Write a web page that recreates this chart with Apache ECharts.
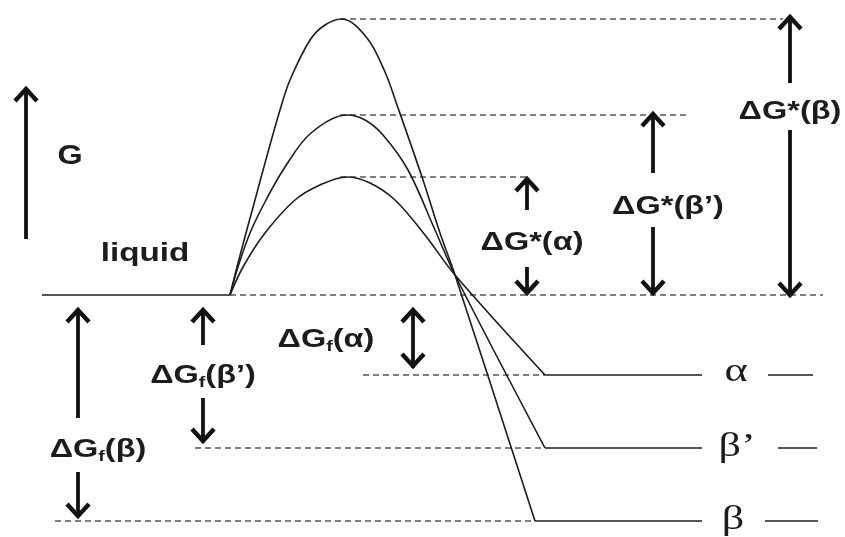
<!DOCTYPE html>
<html>
<head>
<meta charset="utf-8">
<script src="https://cdn.jsdelivr.net/npm/echarts@6/dist/echarts.min.js"></script>
<style>html,body{margin:0;padding:0;background:#fff;}#c{width:845px;height:537px;}</style>
</head>
<body>
<div id="c"></div>
<script>
// ---- data (reaction coordinate, Gibbs energy G; liquid = 0) ----
const phases = ['α', 'β’', 'β'];
const liquidG = 0;
const levelG = [-80, -153, -226];        // ΔGf of each phase (final levels)
const barrierG = [118, 180, 276];        // ΔG* of each phase (activation barriers)
const curveAlpha = [[230,0],[243,28],[265,62],[295,95],[320,110],[347,118],[370,112],[395,95],[425,60],[455,20],[545,-80]];
const curveBetaP = [[230,0],[238,28],[250,62],[266,95],[285,128],[311,162],[347,180],[365,175],[383,160],[408,125],[435,65],[455,20],[545,-153]];
const curveBeta  = [[230,0],[237,28],[246,62],[255,95],[265,132],[280,185],[290,215],[310,255],[325,270],[342,276],[367,257],[385,223],[397,190],[422,118],[440,62],[455,20],[535,-226]];
const curves = [curveAlpha, curveBetaP, curveBeta];

// ---- layout (reaction-coordinate extents of guide lines and arrows) ----
const liquidX = [42, 230];
const levelLineX = [[545, 702], [545, 702], [535, 702]];
const levelTickX = [[768, 813], [778, 817], [765, 818]];
const barrierGuideX = [[340, 530], [340, 687], [340, 783]];
const levelGuideX = [[363, 545], [195, 545], [55, 535]];
const baselineGuideX = [230, 823];
// arrows: [x, gFrom, gTo, bothHeads]
const arrows = [
  [26, 56, 208, 0],
  [527, 85, 118, 0], [527, 28, 0, 0],
  [653, 122, 183, 0], [653, 68, 0, 0],
  [790, 212, 280, 0], [790, 165, -2, 0],
  [78, -123, -13, 0], [78, -177, -223, 0],
  [203, -50, -13, 0], [203, -103, -148, 0],
  [413, -73, -13, 1]
];

const INK = '#1c1c1c';
const series = [];
function seg(x1, x2, g, dashed, width, color) {
  series.push({
    type: 'line', data: [[x1, g], [x2, g]], symbol: 'none', silent: true,
    lineStyle: { color: color, width: width, type: dashed ? [6, 4] : 'solid' }, z: 2
  });
}
seg(liquidX[0], liquidX[1], liquidG, false, 1.8, '#555');
seg(baselineGuideX[0], baselineGuideX[1], liquidG, true, 1.4, '#555');
for (let i = 0; i < 3; i++) {
  seg(barrierGuideX[i][0], barrierGuideX[i][1], barrierG[i], true, 1.4, '#555');
  seg(levelGuideX[i][0], levelGuideX[i][1], levelG[i], true, 1.4, '#555');
  seg(levelLineX[i][0], levelLineX[i][1], levelG[i], false, 1.8, '#555');
  seg(levelTickX[i][0], levelTickX[i][1], levelG[i], false, 1.8, '#555');
}
curves.forEach(function (c) {
  series.push({
    type: 'line', data: c, symbol: 'none', smooth: 0.35, silent: true,
    lineStyle: { color: INK, width: 1.6 }, z: 3
  });
});
series.push({
  type: 'custom', data: arrows, encode: { x: 0, y: [1, 2] }, clip: false, silent: true, z: 4,
  renderItem: function (params, api) {
    const x = api.value(0), g1 = api.value(1), g2 = api.value(2), both = api.value(3);
    const p1 = api.coord([x, g1]), p2 = api.coord([x, g2]);
    const st = { stroke: '#111', lineWidth: 3.8, fill: null, lineJoin: 'miter', lineCap: 'butt' };
    const hs = { stroke: '#111', lineWidth: 4.4, fill: null, lineJoin: 'miter', lineCap: 'butt', miterLimit: 10 };
    function head(tip, from) {
      const d = from[1] > tip[1] ? 1 : -1;
      return { type: 'polyline', shape: { points: [[tip[0] - 11, tip[1] + d * 14], [tip[0], tip[1] + d * 2], [tip[0] + 11, tip[1] + d * 14]] }, style: hs };
    }
    const ch = [{ type: 'line', shape: { x1: p1[0], y1: p1[1], x2: p2[0], y2: p2[1] + (p1[1] > p2[1] ? 4 : -4) }, style: st }, head(p2, p1)];
    if (both) ch.push(head(p1, p2));
    return { type: 'group', children: ch };
  }
});

const SANS = '"Liberation Sans", Arial, sans-serif';
function lab(x, y, txt, size, sx, rich) {
  const o = { type: 'text', x: x, y: y, scaleX: sx, z: 10,
    style: { text: txt, fontFamily: SANS, fontWeight: 'bold', fontSize: size, fill: INK,
      align: 'center', verticalAlign: 'middle', textAlign: 'center', textVerticalAlign: 'middle' } };
  if (rich) o.style.rich = rich;
  return o;
}
const subRich = {
  a: { fontFamily: SANS, fontWeight: 'bold', fontSize: 25, lineHeight: 28, fill: INK },
  s: { fontFamily: SANS, fontWeight: 'bold', fontSize: 15, lineHeight: 8, fill: INK, verticalAlign: 'bottom' }
};
function greek(x, y, txt) {
  return { type: 'text', x: x, y: y, scaleX: 1.3, z: 10,
    style: { text: txt, fontFamily: '"Liberation Serif", "Times New Roman", serif', fontSize: 34, fill: INK,
      align: 'center', verticalAlign: 'middle', textAlign: 'center', textVerticalAlign: 'middle' } };
}
const graphics = [
  lab(70, 157, 'G', 27, 1.2),
  lab(145, 254, 'liquid', 25, 1.33),
  lab(532, 243, 'ΔG*(' + phases[0] + ')', 25, 1.3),
  lab(668, 207, 'ΔG*(' + phases[1] + ')', 25, 1.3),
  lab(790, 112, 'ΔG*(' + phases[2] + ')', 25, 1.3),
  lab(98, 450, '{a|ΔG}{s|f}{a|(' + phases[2] + ')}', 25, 1.3, subRich),
  lab(203, 376, '{a|ΔG}{s|f}{a|(' + phases[1] + ')}', 25, 1.3, subRich),
  lab(326, 340, '{a|ΔG}{s|f}{a|(' + phases[0] + ')}', 25, 1.3, subRich),
  greek(736, 372, phases[0]),
  greek(737, 447, phases[1]),
  greek(733, 520, phases[2])
];

const chart = echarts.init(document.getElementById('c'), null, { renderer: 'canvas' });
chart.setOption({
  animation: false,
  backgroundColor: '#ffffff',
  grid: { left: 0, right: 0, top: 0, bottom: 0 },
  xAxis: { type: 'value', min: 0, max: 845, show: false },
  yAxis: { type: 'value', min: -242, max: 295, show: false },
  series: series,
  graphic: graphics
});
</script>
</body>
</html>
